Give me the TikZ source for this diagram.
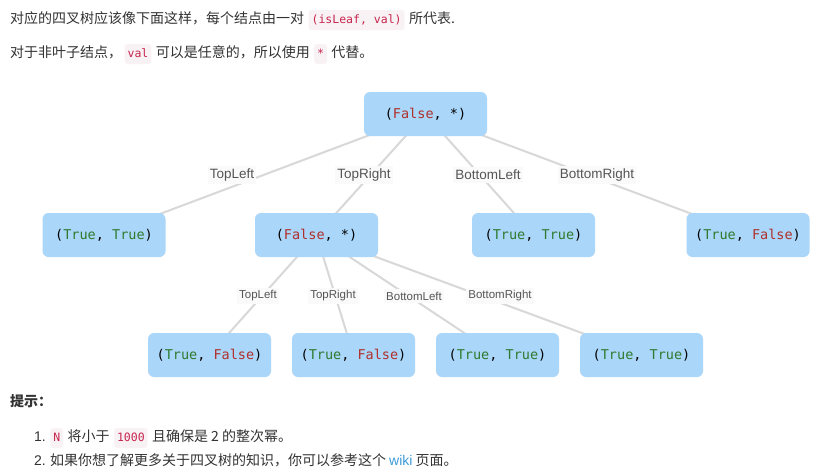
\documentclass[tikz,border=0pt]{standalone}
\usepackage{fontspec}
\setmainfont{Liberation Sans}
\newfontfamily\cjk{Noto Sans CJK SC}
\newfontfamily\monof{DejaVu Sans Mono}
\usetikzlibrary{backgrounds}
\definecolor{boxblue}{HTML}{AAD6FA}
\definecolor{edgegray}{HTML}{D8D8D8}
\definecolor{tgreen}{HTML}{2F7A2F}
\definecolor{tred}{HTML}{B0302A}
\definecolor{codebg}{HTML}{F9F2F4}
\definecolor{codefg}{HTML}{C7254E}
\definecolor{txt}{HTML}{333333}
\definecolor{lblc}{HTML}{555555}
\definecolor{lblbg}{HTML}{FAFAFA}
\definecolor{linkc}{HTML}{3D9BD8}
\newcommand{\Tv}{\textcolor{tgreen}{True}}
\newcommand{\Fv}{\textcolor{tred}{False}}
\tikzset{
  tree/.style={fill=boxblue, rounded corners=6pt, minimum width=123pt, minimum height=44pt,
    inner sep=0pt, font=\monof\fontsize{13.5}{15}\selectfont, text=black},
  edge/.style={draw=edgegray, line width=2pt},
  lblA/.style={fill=lblbg, text=lblc, inner xsep=2pt, inner ysep=3pt, font=\fontsize{13.5}{15}\selectfont},
  lblB/.style={fill=lblbg, text=lblc, inner xsep=2pt, inner ysep=3pt, font=\fontsize{11.5}{13}\selectfont},
  plain/.style={inner sep=0pt, anchor=base west, text=txt, font=\cjk\fontsize{14}{17}\selectfont},
  codebox/.style={fill=codebg, text=codefg, rounded corners=3pt, anchor=base west, inner xsep=3pt,
    inner ysep=4pt, text height=9pt, text depth=3pt, font=\monof\fontsize{11.5}{13}\selectfont}
}
\begin{document}
\begin{tikzpicture}[x=1pt, y=-1pt]
\path[use as bounding box] (0,0) rectangle (824,474);

% top text
\node[plain] (t1a) at (10,23) {对应的四叉树应该像下面这样，每个结点由一对};
\node[codebox] (c1) at ([xshift=4pt]t1a.base east) {(isLeaf, val)};
\node[plain] (t1b) at ([xshift=4pt]c1.base east) {所代表.};

\node[plain] (t2a) at (10,57) {对于非叶子结点，};
\node[codebox] (c2) at ([xshift=2pt]t2a.base east) {val};
\node[plain] (t2b) at ([xshift=4pt]c2.base east) {可以是任意的，所以使用};
\node[codebox] (c3) at ([xshift=4pt]t2b.base east) {*};
\node[plain] (t2c) at ([xshift=4pt]c3.base east) {代替。};

% tree nodes
\node[tree] (root) at (425.5,114) {(\Fv, *)};
\node[tree] (a1) at (104,235) {(\Tv, \Tv)};
\node[tree] (a2) at (316.5,235) {(\Fv, *)};
\node[tree] (a3) at (533.5,235) {(\Tv, \Tv)};
\node[tree] (a4) at (748,235) {(\Tv, \Fv)};
\node[tree] (b1) at (209.5,355) {(\Tv, \Fv)};
\node[tree] (b2) at (353.5,355) {(\Tv, \Fv)};
\node[tree] (b3) at (497.5,355) {(\Tv, \Tv)};
\node[tree] (b4) at (641.5,355) {(\Tv, \Tv)};

\begin{scope}[on background layer]
\fill[white] (0,0) rectangle (824,474);
\draw[edge] (root.center) -- (a1.center);
\draw[edge] (root.center) -- (a2.center);
\draw[edge] (root.center) -- (a3.center);
\draw[edge] (root.center) -- (a4.center);
\draw[edge] (a2.center) -- (b1.center);
\draw[edge] (a2.center) -- (b2.center);
\draw[edge] (a2.center) -- (b3.center);
\draw[edge] (a2.center) -- (b4.center);
\end{scope}

% edge labels
\node[lblA] (la1) at (232,175) {TopLeft};
\node[lblA] (la2) at (364,175) {TopRight};
\node[lblA] (la3) at (488,175) {BottomLeft};
\node[lblA] (la4) at (597,175) {BottomRight};
\node[lblB] (lb1) at (258,296) {TopLeft};
\node[lblB] (lb2) at (333,296) {TopRight};
\node[lblB] (lb3) at (414,296) {BottomLeft};
\node[lblB] (lb4) at (500,296) {BottomRight};

% hints
\node[plain, font=\cjk\bfseries\fontsize{14}{17}\selectfont] (h0) at (10,406) {提示：};
\node[plain, font=\fontsize{14}{17}\selectfont] (n1) at (34,441) {1.};
\node[codebox] (c4) at ([xshift=4pt]n1.base east) {N};
\node[plain] (h1a) at ([xshift=4pt]c4.base east) {将小于};
\node[codebox] (c5) at ([xshift=4pt]h1a.base east) {1000};
\node[plain] (h1b) at ([xshift=4pt]c5.base east) {且确保是 2 的整次幂。};
\node[plain] (h2) at (34,465) {{\fontspec{Liberation Sans}2.} 如果你想了解更多关于四叉树的知识，你可以参考这个 \textcolor{linkc}{\fontspec{Liberation Sans}wiki} 页面。};
\end{tikzpicture}
\end{document}
